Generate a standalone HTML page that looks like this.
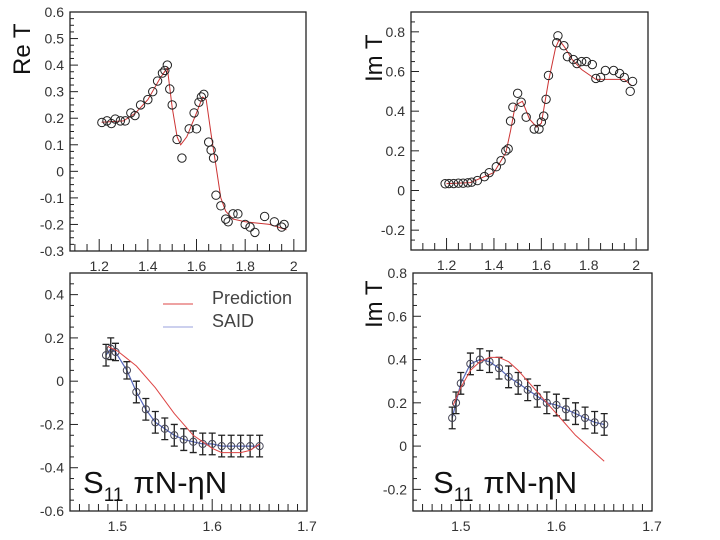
<!DOCTYPE html>
<html><head><meta charset="utf-8"><style>
body{margin:0;background:#fff;width:720px;height:540px;overflow:hidden}
svg{display:block;font-family:"Liberation Sans",sans-serif}
</style></head><body>
<svg id="c" width="720" height="540" viewBox="0 0 720 540"></svg>
<script>
// ---- Panel 1: Re T ----
const p1X=[1.211,1.232,1.25,1.266,1.287,1.307,1.33,1.347,1.37,1.4,1.42,1.44,1.46,1.47,1.48,1.49,1.5,1.52,1.54,1.57,1.59,1.6,1.61,1.62,1.63,1.65,1.66,1.67,1.68,1.7,1.72,1.73,1.75,1.77,1.8,1.82,1.84,1.88,1.92,1.95,1.96];
const p1Y=[0.184,0.19,0.18,0.197,0.19,0.19,0.22,0.21,0.25,0.27,0.30,0.34,0.37,0.38,0.40,0.31,0.25,0.12,0.05,0.16,0.22,0.16,0.26,0.28,0.29,0.11,0.08,0.05,-0.09,-0.13,-0.18,-0.19,-0.16,-0.16,-0.20,-0.21,-0.23,-0.17,-0.19,-0.21,-0.20];
const p1CX=[1.21,1.3,1.35,1.4,1.45,1.48,1.5,1.52,1.535,1.56,1.6,1.625,1.64,1.66,1.68,1.7,1.72,1.75,1.8,1.9,1.97];
const p1CY=[0.185,0.19,0.22,0.27,0.35,0.39,0.24,0.13,0.10,0.13,0.22,0.28,0.27,0.14,0.02,-0.10,-0.15,-0.18,-0.19,-0.20,-0.22];
// ---- Panel 2: Im T ----
const p2X=[1.194,1.21,1.23,1.25,1.27,1.29,1.306,1.33,1.36,1.38,1.41,1.43,1.45,1.46,1.47,1.48,1.5,1.515,1.536,1.57,1.59,1.6,1.61,1.62,1.63,1.665,1.67,1.695,1.71,1.735,1.75,1.77,1.79,1.815,1.83,1.85,1.87,1.905,1.93,1.95,1.975,1.985];
const p2Y=[0.034,0.035,0.035,0.037,0.037,0.039,0.042,0.05,0.07,0.09,0.12,0.15,0.20,0.21,0.35,0.42,0.49,0.445,0.37,0.31,0.31,0.345,0.375,0.46,0.58,0.745,0.78,0.73,0.675,0.66,0.64,0.65,0.65,0.635,0.565,0.57,0.605,0.605,0.59,0.57,0.50,0.55];
const p2CX=[1.2,1.3,1.4,1.45,1.47,1.49,1.52,1.55,1.58,1.6,1.63,1.66,1.675,1.7,1.73,1.77,1.83,1.95,1.98];
const p2CY=[0.035,0.04,0.09,0.19,0.30,0.43,0.45,0.36,0.32,0.34,0.55,0.72,0.76,0.72,0.66,0.61,0.56,0.56,0.53];
// ---- Panel 3: S11 Re ----
const p3X=[1.488,1.493,1.498,1.51,1.52,1.53,1.54,1.55,1.56,1.57,1.58,1.59,1.6,1.61,1.62,1.63,1.64,1.65];
const p3Y=[0.12,0.15,0.135,0.05,-0.05,-0.13,-0.19,-0.22,-0.25,-0.27,-0.28,-0.29,-0.29,-0.30,-0.30,-0.30,-0.30,-0.30];
const p3E=[0.05,0.05,0.04,0.04,0.05,0.05,0.05,0.05,0.05,0.05,0.05,0.05,0.05,0.05,0.05,0.05,0.05,0.05];
const p3PX=[1.49,1.5,1.52,1.54,1.56,1.58,1.6,1.61,1.62,1.63,1.64,1.65];
const p3PY=[0.16,0.14,0.07,-0.03,-0.15,-0.25,-0.31,-0.33,-0.33,-0.33,-0.32,-0.29];
// ---- Panel 4: S11 Im ----
const p4X=[1.491,1.495,1.5,1.51,1.52,1.53,1.54,1.55,1.56,1.57,1.58,1.59,1.6,1.61,1.62,1.63,1.64,1.65];
const p4Y=[0.13,0.20,0.29,0.38,0.40,0.39,0.36,0.32,0.29,0.26,0.23,0.20,0.19,0.17,0.15,0.13,0.11,0.10];
const p4E=[0.05,0.05,0.05,0.05,0.05,0.05,0.05,0.05,0.05,0.05,0.05,0.05,0.05,0.05,0.05,0.05,0.05,0.05];
const p4PX=[1.492,1.5,1.51,1.52,1.53,1.54,1.55,1.56,1.57,1.58,1.59,1.6,1.61,1.62,1.63,1.64,1.65];
const p4PY=[0.19,0.27,0.35,0.39,0.41,0.41,0.39,0.35,0.30,0.25,0.20,0.15,0.10,0.05,0.01,-0.03,-0.07];
// ticks
const topXTicks=[1.2,1.4,1.6,1.8,2];
const botXTicks=[1.5,1.6,1.7];
const p1YTicks=[-0.3,-0.2,-0.1,0,0.1,0.2,0.3,0.4,0.5,0.6];
const p2YTicks=[-0.2,0,0.2,0.4,0.6,0.8];
const p3YTicks=[-0.6,-0.4,-0.2,0,0.2,0.4];
const p4YTicks=[-0.2,0,0.2,0.4,0.6,0.8];

const svg=document.getElementById('c');
const NS='http://www.w3.org/2000/svg';
function mk(tag,at,parent){const e=document.createElementNS(NS,tag);for(const k in at)e.setAttribute(k,at[k]);(parent||svg).appendChild(e);return e;}
function fmt(v){let s=(Math.round(v*10)/10).toString();return s;}

function panel(name,L,R,T,B,x0,x1,y0,y1,xt,xminor,yt,yminor){
  const g=mk('g',{});
  
  
  const sx=v=>L+(v-x0)/(x1-x0)*(R-L);
  const sy=v=>B-(v-y0)/(y1-y0)*(B-T);
  const fr=mk('rect',{x:L,y:T,width:R-L,height:B-T,fill:'none',stroke:'#222','stroke-width':1.3},g);
  
  
  // y ticks
  for(let v=Math.ceil(y0/yminor-1e-6)*yminor;v<=y1+1e-9;v+=yminor){
    const y=sy(v);const major=yt.some(t=>Math.abs(t-v)<1e-6);
    mk('line',{x1:L,x2:L+(major?8:4),y1:y,y2:y,stroke:'#222','stroke-width':1},g);
  }
  yt.forEach(v=>{const t=mk('text',{x:L-6,y:sy(v)+5,'text-anchor':'end','font-size':14,fill:'#333'},g);t.textContent=fmt(v);
    });
  // x ticks
  for(let v=Math.ceil(x0/xminor-1e-6)*xminor;v<=x1+1e-9;v+=xminor){
    const x=sx(v);const major=xt.some(t=>Math.abs(t-v)<1e-6);
    mk('line',{x1:x,x2:x,y1:B,y2:B-(major?12:7),stroke:'#222','stroke-width':1},g);
  }
  xt.forEach(v=>{const t=mk('text',{x:sx(v),y:B+20,'text-anchor':'middle','font-size':14,fill:'#333'},g);t.textContent=fmt(v);
    });
  return {g,sx,sy};
}
function line(p,X,Y,color,w,name){
  const d=X.map((x,i)=>(i?'L':'M')+p.sx(x).toFixed(1)+','+p.sy(Y[i]).toFixed(1)).join('');
  const e=mk('path',{d,fill:'none',stroke:color,'stroke-width':w},p.g);
  
  
}
function pts(p,X,Y,E,color,r,name,capColor){
  X.forEach((x,i)=>{
    const cx=p.sx(x),cy=p.sy(Y[i]);
    if(E){const e=E[i];const y1=p.sy(Y[i]+e),y2=p.sy(Y[i]-e);
      mk('path',{d:`M${cx},${y1}L${cx},${y2}M${cx-3.5},${y1}L${cx+3.5},${y1}M${cx-3.5},${y2}L${cx+3.5},${y2}`,stroke:capColor,'stroke-width':1.3,fill:'none'},p.g);}
    const c=mk('circle',{cx,cy,r,fill:'none',stroke:color,'stroke-width':1},p.g);
    
    
  });
}
// Panel 1
const P1=panel('re-t-panel',70,306,12,251,1.08,2.05,-0.3,0.6,topXTicks,0.05,p1YTicks,0.025);
line(P1,p1CX,p1CY,'#c33',1,'re-t-fit-curve');
pts(P1,p1X,p1Y,null,'#222',4.2,'re-t-point');
// Panel 2
const P2=panel('im-t-panel',411,648,12,250,1.05,2.05,-0.3,0.9,topXTicks,0.05,p2YTicks,0.05);
line(P2,p2CX,p2CY,'#c33',1,'im-t-fit-curve');
pts(P2,p2X,p2Y,null,'#222',4.2,'im-t-point');
// Panel 3
const P3=panel('s11-re-panel',70,307,273,511,1.45,1.7,-0.6,0.5,botXTicks,0.01,p3YTicks,0.05);
line(P3,p3X,p3Y,'#5566bb',1.2,'s11-re-said-line');
pts(P3,p3X,p3Y,p3E,'#445',3.6,'s11-re-said-point','#222');
line(P3,p3PX,p3PY,'#d44',1,'s11-re-prediction-curve');
// Panel 4
const P4=panel('s11-im-panel',413,652,273,511,1.45,1.7,-0.3,0.8,botXTicks,0.01,p4YTicks,0.05);
line(P4,p4X,p4Y,'#5566bb',1.2,'s11-im-said-line');
pts(P4,p4X,p4Y,p4E,'#445',3.6,'s11-im-said-point','#222');
line(P4,p4PX,p4PY,'#d44',1,'s11-im-prediction-curve');
</script>
<svg width="720" height="540" style="position:absolute;left:0;top:0">
<text x="30" y="75" font-size="24" fill="#111" transform="rotate(-90 30 75)" font-family="Liberation Sans,sans-serif">Re T</text>
<text x="382" y="82" font-size="24" fill="#111" transform="rotate(-90 382 82)" font-family="Liberation Sans,sans-serif">Im T</text>
<text x="382" y="328" font-size="24" fill="#111" transform="rotate(-90 382 328)" font-family="Liberation Sans,sans-serif">Im T</text>
<g font-family="Liberation Sans,sans-serif">
<line x1="163" x2="193" y1="304" y2="304" stroke="#d44" stroke-width="1"/>
<text x="212" y="304" font-size="18" fill="#444">Prediction</text>
<line x1="163" x2="193" y1="327" y2="327" stroke="#99a0dd" stroke-width="1"/>
<text x="212" y="327" font-size="18" fill="#444">SAID</text>
</g>
<text x="83" y="493" font-size="31" fill="#111" font-family="Liberation Sans,sans-serif">S<tspan font-size="19" dy="8">11</tspan><tspan dy="-8" dx="10">πN-ηN</tspan></text>
<text x="433" y="493" font-size="31" fill="#111" font-family="Liberation Sans,sans-serif">S<tspan font-size="19" dy="8">11</tspan><tspan dy="-8" dx="10">πN-ηN</tspan></text>
</svg>
</body></html>
